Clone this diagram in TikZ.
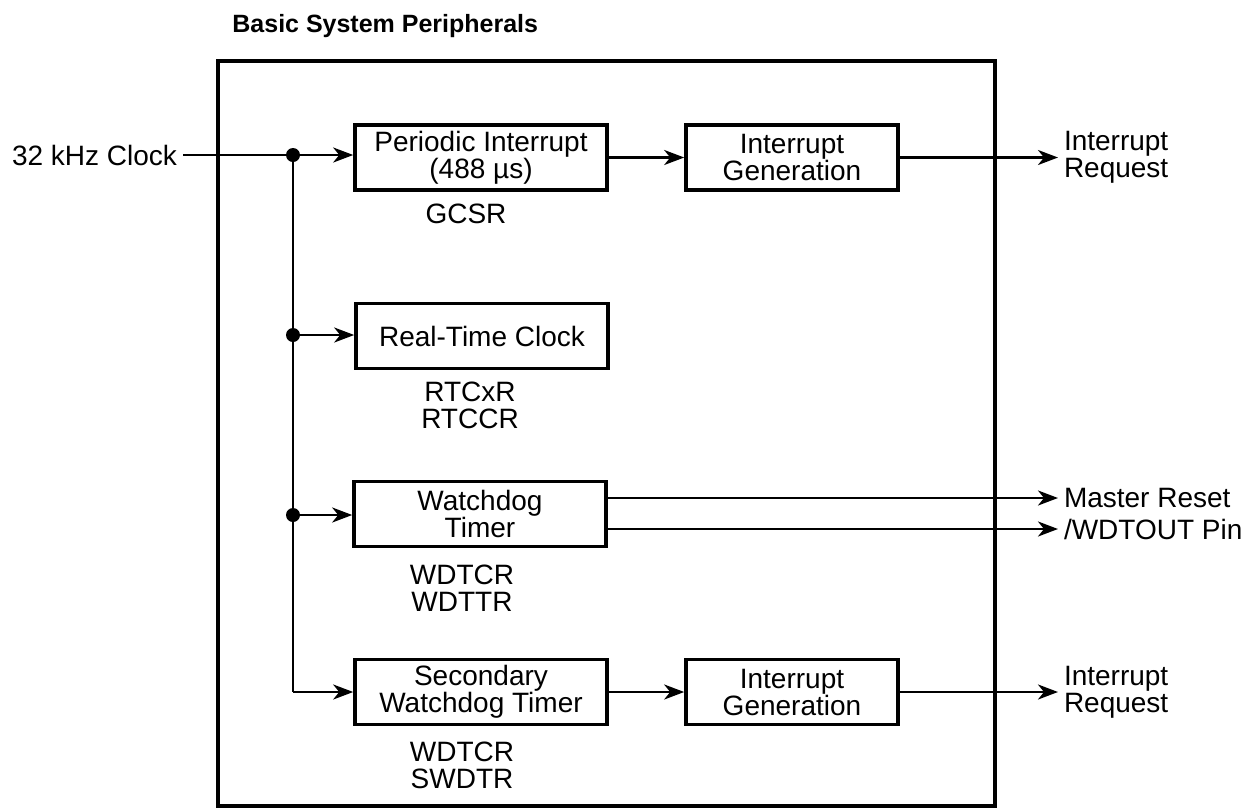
\documentclass[tikz,border=0pt]{standalone}
\usepackage{fontspec}
\setmainfont{Liberation Sans}
\usetikzlibrary{arrows.meta}

\tikzset{
  txt/.style={font=\fontsize{14}{13.5}\selectfont,align=center,inner sep=0pt},
  blk/.style={txt,draw,line width=1.8pt,minimum width=126pt,minimum height=32.5pt},
  genblk/.style={blk,minimum width=106pt},
  outlbl/.style={txt,anchor=west,align=left,outer xsep=3pt},
  wire/.style={line width=1.3pt},
  sig/.style={wire,-{Stealth[length=10pt,width=7.5pt,inset=3pt]}},
}

\begin{document}
\begin{tikzpicture}[x=0.5pt,y=-0.5pt]
    \useasboundingbox (0,0) rectangle (1250,810);

    % outer frame
    \draw[line width=2pt] (218,61) rectangle (995,806);
    \node[anchor=base west,inner sep=0pt,font=\bfseries\fontsize{12.5}{13}\selectfont] (title) at (232,32) {Basic System Peripherals};

    \node[txt,anchor=east,outer xsep=3pt] (clk) at (183,155) {32 kHz Clock};

    % blocks
    \node[blk] (per) at (481,157.5) {Periodic Interrupt\\(488 µs)};
    \node[genblk] (ig1) at (792,157.5) {Interrupt\\Generation};
    \node[blk] (rtc) at (482,336) {Real-Time Clock};
    \node[blk] (wdt) at (480,514) {Watchdog\\Timer};
    \node[blk] (swdt) at (481,692) {Secondary\\Watchdog Timer};
    \node[genblk] (ig2) at (792,692) {Interrupt\\Generation};

    % register names
    \node[txt] (gcsr) at (466,214) {GCSR};
    \node[txt] (rtcreg) at (470,405) {RTCxR\\RTCCR};
    \node[txt] (wdtreg) at (462,588) {WDTCR\\WDTTR};
    \node[txt] (swdtreg) at (462,765) {WDTCR\\SWDTR};

    % outputs
    \node[outlbl] (irq1) at (1058,157.5) {Interrupt\\Request};
    \node[outlbl] (mrst) at (1058,498) {Master Reset};
    \node[outlbl] (wdtout) at (1058,529) {/WDTOUT Pin};
    \node[outlbl] (irq2) at (1058,692) {Interrupt\\Request};

    % clock bus
    \coordinate (j1) at (293,155);
    \coordinate (j2) at (293,335);
    \coordinate (j3) at (293,515);
    \coordinate (jend) at (293,692);

    \draw[wire] (clk) -- (j1) -- (jend);
    \draw[sig] (j1) -- (j1 -| per.west);
    \draw[sig] (j2) -- (j2 -| rtc.west);
    \draw[sig] (j3) -- (j3 -| wdt.west);
    \draw[sig] (jend) -- (swdt);
    \foreach \j in {j1,j2,j3}
        \fill (\j) circle (3.5pt);

    \draw[sig] (per) -- (ig1);
    \draw[sig] (ig1) -- (irq1);
    \draw[sig] (wdt.east |- mrst) -- (mrst);
    \draw[sig] (wdt.east |- wdtout) -- (wdtout);
    \draw[sig] (swdt) -- (ig2);
    \draw[sig] (ig2) -- (irq2);
\end{tikzpicture}
\end{document}
